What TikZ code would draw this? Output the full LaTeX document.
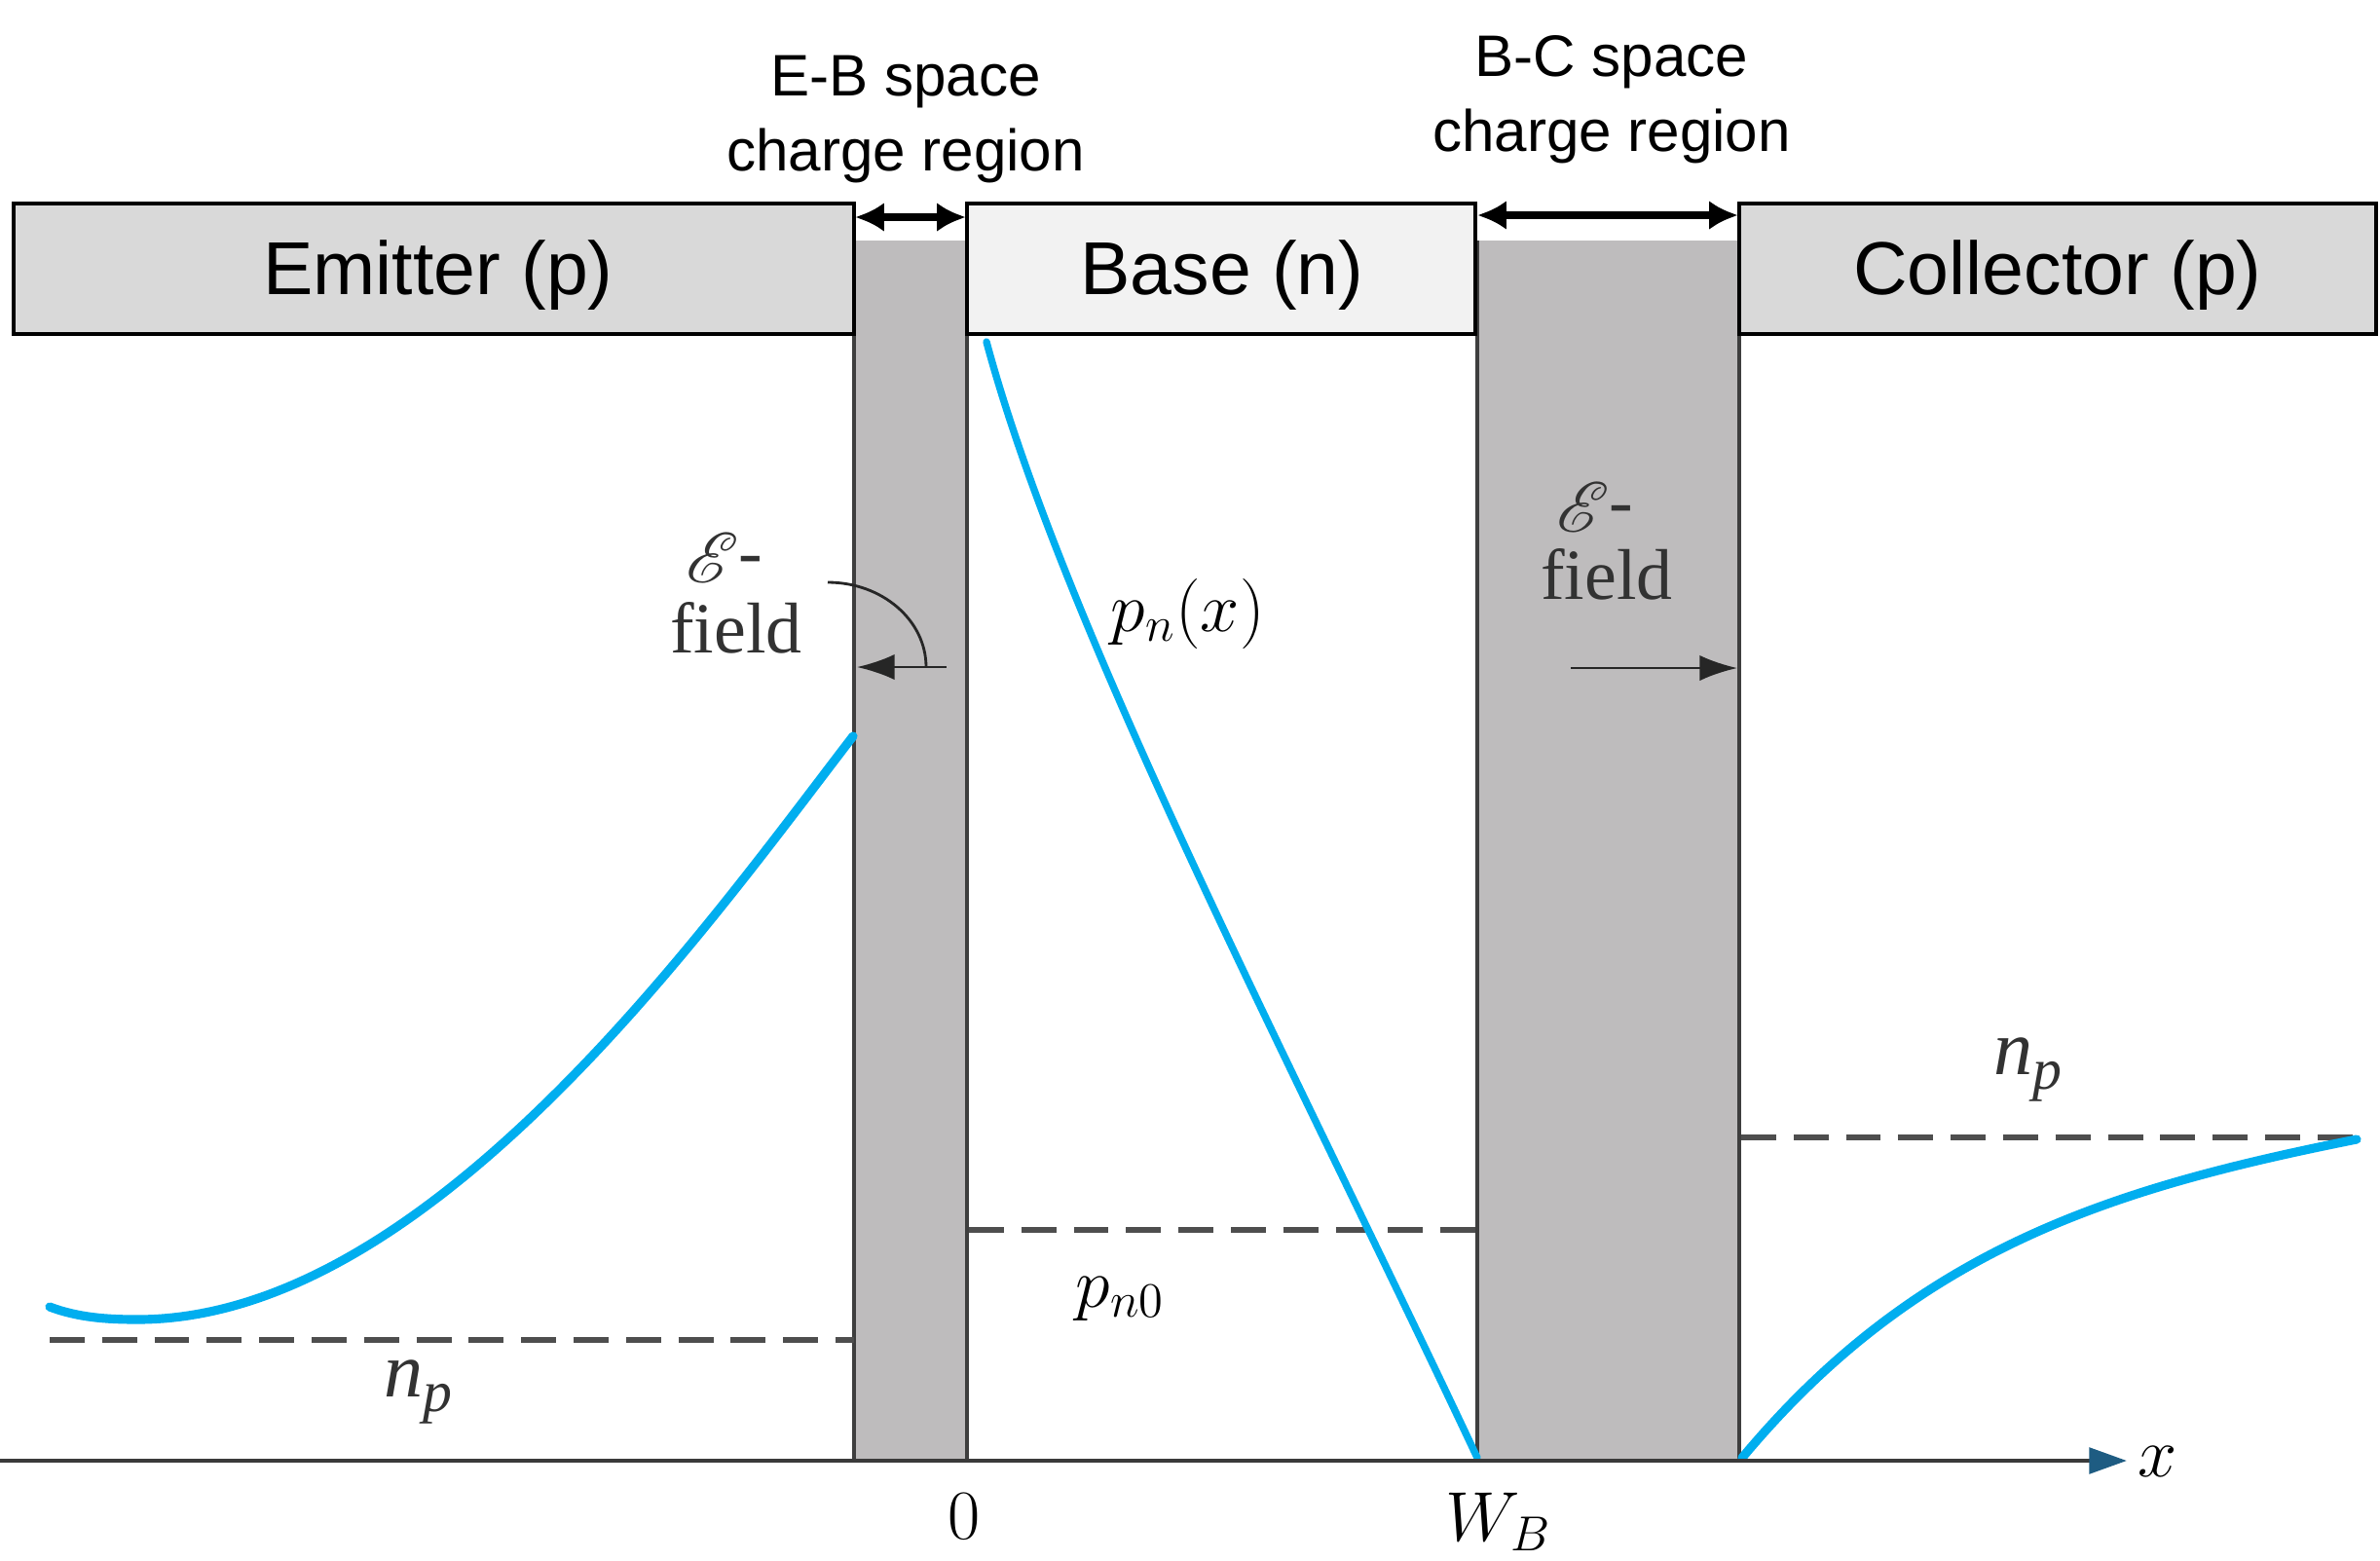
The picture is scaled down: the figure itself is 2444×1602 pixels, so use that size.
\RequirePackage{fix-cm}
\documentclass[tikz,border=0pt]{standalone}
\usepackage{fontspec}
\usepackage{mathrsfs}
\setmainfont{Liberation Serif}
\newfontfamily\sansf{Liberation Sans}
\usetikzlibrary{arrows.meta}
\definecolor{cblue}{RGB}{0,174,239}
\definecolor{boxgray}{RGB}{217,217,217}
\definecolor{boxlight}{RGB}{242,242,242}
\definecolor{scrgray}{RGB}{190,188,189}
\definecolor{edgegray}{RGB}{62,62,62}
\definecolor{dashgray}{RGB}{78,78,78}
\definecolor{axisgray}{RGB}{58,58,58}
\definecolor{axisblue}{RGB}{30,92,130}
\definecolor{fieldtxt}{RGB}{50,50,50}
\begin{document}
\begin{tikzpicture}[x=0.01cm,y=-0.01cm,
  regionbox/.style={draw=black, line width=0.9pt},
  scrfill/.style={fill=scrgray},
  scredge/.style={draw=edgegray, line width=1.2pt},
  carrier/.style={draw=cblue, line width=2.6pt, line cap=round},
  carrierthin/.style={draw=cblue, line width=2.1pt, line cap=round},
  eqline/.style={draw=dashgray, line width=1.5pt, dash pattern=on 10.2pt off 5.1pt},
  boxlabel/.style={font=\sansf\fontsize{21.9}{26}\selectfont, inner sep=0, anchor=base},
  toplabel/.style={font=\sansf\fontsize{17.1}{20}\selectfont, inner sep=0, anchor=base},
  mathlabel/.style={font=\fontsize{20.5}{24}\selectfont, inner sep=0, anchor=base west},
  fieldlbl/.style={font=\fontsize{21}{24}\selectfont, text=fieldtxt, inner sep=0},
  nplbl/.style={font=\fontsize{22.8}{24}\selectfont\itshape, text=fieldtxt, inner sep=0, anchor=base west},
  widtharrow/.style={line width=2.3pt, {Latex[length=8.5pt,width=8.5pt]}-{Latex[length=8.5pt,width=8.5pt]}},
  fieldarrow/.style={line width=0.8pt, draw=black!85, -{Latex[length=11pt,width=7.5pt]}},
  axisline/.style={draw=axisgray, line width=1.3pt, -{Triangle[length=11pt,width=7.5pt,color=axisblue]}}
]
\useasboundingbox (0,0) rectangle (2444,1602);
\fill[white] (0,0) rectangle (2444,1602);

% space charge regions
\fill[scrfill] (877,247) rectangle (993,1500);
\fill[scrfill] (1517,247) rectangle (1786,1500);
\draw[scredge] (877,247) -- (877,1500);
\draw[scredge] (993,247) -- (993,1500);
\draw[scredge] (1517,247) -- (1517,1500);
\draw[scredge] (1786,247) -- (1786,1500);

% region boxes
\draw[regionbox, fill=boxgray] (14,209) rectangle (877,343);
\draw[regionbox, fill=boxlight] (993,209) rectangle (1515,343);
\draw[regionbox, fill=boxgray] (1786,209) rectangle (2440,343);
\node[boxlabel] (emitter) at (450,302) {Emitter (p)};
\node[boxlabel] (base) at (1255,302) {Base (n)};
\node[boxlabel] (collector) at (2113,302) {Collector (p)};

% width labels and arrows
\node[toplabel] (eb1) at (930,98) {E-B space};
\node[toplabel] (eb2) at (930,175) {charge region};
\node[toplabel] (bc1) at (1655,78) {B-C space};
\node[toplabel] (bc2) at (1655,155) {charge region};
\coordinate (ebL) at (878,223);
\coordinate (ebR) at (992,223);
\coordinate (bcL) at (1517,221);
\coordinate (bcR) at (1785,221);
\draw[widtharrow] (ebL) -- (ebR);
\draw[widtharrow] (bcL) -- (bcR);

% equilibrium dashed lines
\coordinate (npEL) at (51,1376);
\coordinate (npER) at (877,1376);
\coordinate (pnL) at (995,1263);
\coordinate (pnR) at (1517,1263);
\coordinate (npCL) at (1788,1168);
\coordinate (npCR) at (2420,1168);
\draw[eqline] (npEL) -- (npER);
\draw[eqline] (pnL) -- (pnR);
\draw[eqline] (npCL) -- (npCR);

% carrier curves
\coordinate (emS) at (51,1342);
\coordinate (emM) at (141,1355);
\coordinate (emE) at (876,756);
\draw[carrier] (emS) .. controls (80,1353) and (110,1355) .. (emM)
  .. controls (441,1355) and (726,951) .. (emE);
\coordinate (bsS) at (1013,351);
\coordinate (bsE) at (1517,1497);
\draw[carrierthin] (bsS) .. controls (1094,651) and (1329,1097) .. (bsE);
\coordinate (clS) at (1789,1497);
\coordinate (clE) at (2420,1170);
\draw[carrier] (clS) .. controls (1969,1281) and (2170,1220) .. (clE);

% axis
\coordinate (axL) at (0,1500);
\coordinate (axR) at (2184,1500);
\draw[axisline] (axL) -- (axR);

% E-field annotations
\node[fieldlbl] (ef1) at (744,573) {$\mathscr{E}$\raisebox{2pt}{-}};
\node[fieldlbl, anchor=base] (field1) at (756,670) {field};
\coordinate (arcS) at (850,598);
\coordinate (arcE) at (951,685);
\draw[line width=0.8pt, draw=black!85] (arcS) .. controls (906,598) and (951,637) .. (arcE);
\coordinate (f1S) at (972,685);
\coordinate (f1E) at (880,685);
\draw[fieldarrow] (f1S) -- (f1E);

\node[fieldlbl] (ef2) at (1638,521) {$\mathscr{E}$\raisebox{2pt}{-}};
\node[fieldlbl, anchor=base] (field2) at (1650,615) {field};
\coordinate (f2S) at (1613,686);
\coordinate (f2E) at (1784,686);
\draw[fieldarrow] (f2S) -- (f2E);

% labels
\node[nplbl] (npE) at (394,1434) {n\raisebox{-4.3pt}{\fontsize{17}{17}\selectfont p}};
\node[nplbl] (npC) at (2047,1103) {n\raisebox{-4.3pt}{\fontsize{17}{17}\selectfont p}};
\node[mathlabel] (pnx) at (1140,648) {$p_n(x)$};
\node[mathlabel] (pn0) at (1104,1342) {$p_{n0}$};
\node[mathlabel, anchor=base] (zero) at (990,1580) {$0$};
\node[mathlabel] (wb) at (1484,1582) {$W_B$};
\node[mathlabel] (xlbl) at (2195,1516) {$x$};
\end{tikzpicture}
\end{document}
